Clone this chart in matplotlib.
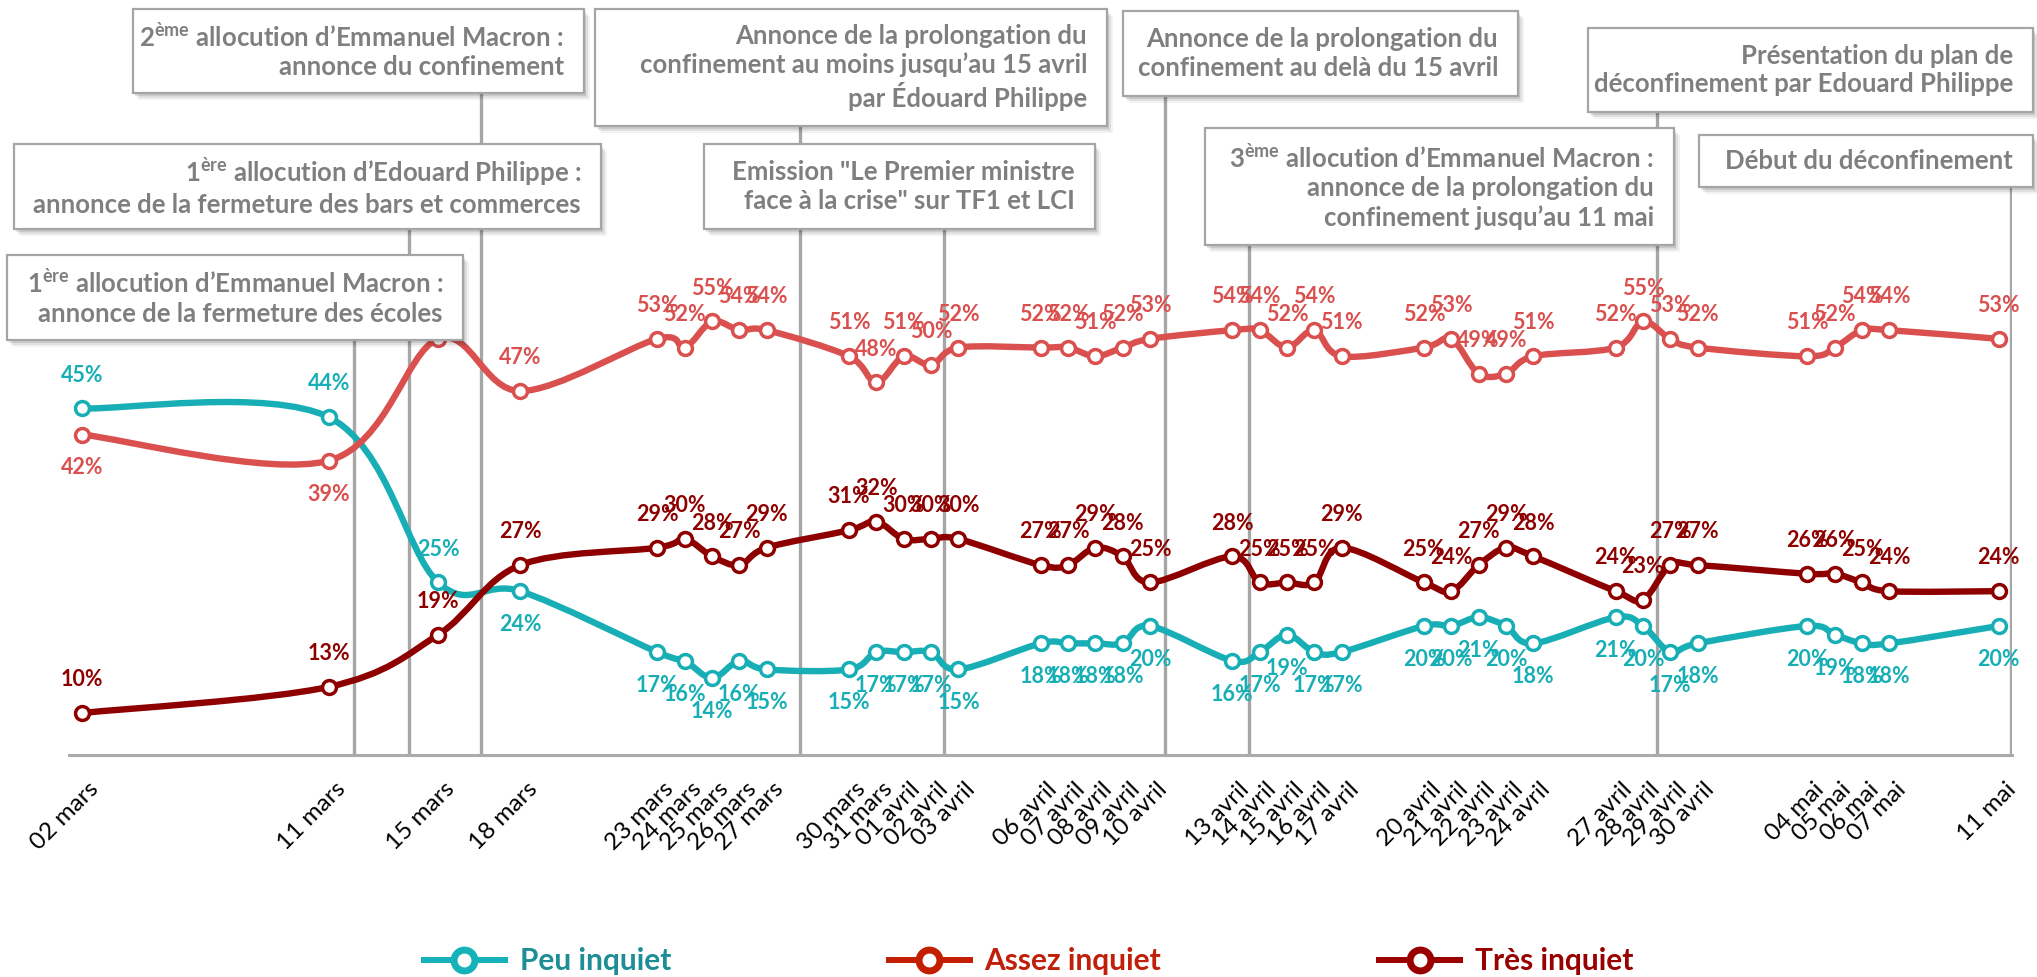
import matplotlib
matplotlib.use("Agg")
import matplotlib.pyplot as plt
import matplotlib.transforms as mtransforms
from matplotlib.path import Path
from matplotlib.patches import PathPatch, Rectangle
from matplotlib.lines import Line2D
import numpy as np

plt.rcParams['font.family'] = ['Lato', 'DejaVu Sans']
plt.rcParams['mathtext.fontset'] = 'custom'
plt.rcParams['mathtext.rm'] = 'Lato:bold'
plt.rcParams['mathtext.it'] = 'Lato:bold:italic'
plt.rcParams['mathtext.bf'] = 'Lato:bold'

# data
dates = ["02 mars", "11 mars", "15 mars", "18 mars", "23 mars", "24 mars", "25 mars", "26 mars",
         "27 mars", "30 mars", "31 mars", "01 avril", "02 avril", "03 avril", "06 avril", "07 avril",
         "08 avril", "09 avril", "10 avril", "13 avril", "14 avril", "15 avril", "16 avril", "17 avril",
         "20 avril", "21 avril", "22 avril", "23 avril", "24 avril", "27 avril", "28 avril", "29 avril",
         "30 avril", "04 mai", "05 mai", "06 mai", "07 mai", "11 mai"]
peu = [45, 44, 25, 24, 17, 16, 14, 16, 15, 15, 17, 17, 17, 15, 18, 18, 18, 18, 20,
       16, 17, 19, 17, 17, 20, 20, 21, 20, 18, 21, 20, 17, 18, 20, 19, 18, 18, 20]
assez = [42, 39, 53, 47, 53, 52, 55, 54, 54, 51, 48, 51, 50, 52, 52, 52, 51, 52, 53,
         54, 54, 52, 54, 51, 52, 53, 49, 49, 51, 52, 55, 53, 52, 51, 52, 54, 54, 53]
tres = [10, 13, 19, 27, 29, 30, 28, 27, 29, 31, 32, 30, 30, 30, 27, 27, 29, 28, 25,
        28, 25, 25, 25, 29, 25, 24, 27, 29, 28, 24, 23, 27, 27, 26, 26, 25, 24, 24]
series_names = ["Peu inquiet", "Assez inquiet", "Très inquiet"]

# events (day number counted from 29 feb, so 1 = 1er mars)
event_days = [11.91, 13.93, 16.56, 28.2, 33.46, 41.56, 44.61, 59.5, 72.43]
event_texts = [
    "1$^{\\mathrm{ère}}$ allocution d’Emmanuel Macron :\nannonce de la fermeture des écoles",
    "1$^{\\mathrm{ère}}$ allocution d’Edouard Philippe :\nannonce de la fermeture des bars et commerces",
    "2$^{\\mathrm{ème}}$ allocution d’Emmanuel Macron :\nannonce du confinement",
    "Annonce de la prolongation du\nconfinement au moins jusqu’au 15 avril\npar Édouard Philippe",
    "Emission \"Le Premier ministre\nface à la crise\" sur TF1 et LCI",
    "Annonce de la prolongation du\nconfinement au delà du 15 avril",
    "3$^{\\mathrm{ème}}$ allocution d’Emmanuel Macron :\nannonce de la prolongation du\nconfinement jusqu’au 11 mai",
    "Présentation du plan de\ndéconfinement par Edouard Philippe",
    "Début du déconfinement",
]
# box layout in pixels (left, top, right, bottom)
boxes = [(7, 255, 463, 340), (14, 144, 601, 229), (133, 9, 584, 93),
         (595, 9, 1107, 126), (704, 144, 1095, 229), (1123, 11, 1518, 96),
         (1205, 128, 1674, 245), (1588, 28, 2033, 112), (1699, 135, 2033, 187)]

months = {"mars": 0, "avril": 31, "mai": 61}
x = np.array([int(d.split()[0]) + months[d.split()[1]] for d in dates], dtype=float)

teal = '#17AFB5'
red = '#D9504E'
dark = '#8E0000'

W, H = 2037, 977
fig = plt.figure(figsize=(W / 100, H / 100), dpi=100)
ax_bottom_px = 755
ax = fig.add_axes([69 / W, 1 - ax_bottom_px / H, (2012 - 69) / W, ax_bottom_px / H])
ax.set_xlim(1.515, 72.48)
ax.set_ylim(5.17, 91.95)
for s in ['top', 'right', 'left']:
    ax.spines[s].set_visible(False)
ax.spines['bottom'].set_color('#ABABAB')
ax.spines['bottom'].set_linewidth(2.2)
ax.set_yticks([])


def smooth(xs, ys):
    pts = np.column_stack([xs, ys])
    n = len(pts)
    verts = [pts[0]]
    codes = [Path.MOVETO]
    for i in range(n - 1):
        p0 = pts[max(i - 1, 0)]
        p1 = pts[i]
        p2 = pts[i + 1]
        p3 = pts[min(i + 2, n - 1)]
        verts += [p1 + (p2 - p0) / 6, p2 - (p3 - p1) / 6, p2]
        codes += [Path.CURVE4] * 3
    return Path(verts, codes)


# vertical event lines
for d, (l, t, r, b) in zip(event_days, boxes):
    ax.axvline(d, ymin=0, ymax=(ax_bottom_px - b) / ax_bottom_px, color='#A6A6A6', lw=2.4, zorder=1)

for vals, col, sign in [(peu, teal, -1), (assez, red, 1), (tres, dark, 1)]:
    ax.add_patch(PathPatch(smooth(x, vals), fill=False, edgecolor=col, lw=4.6,
                           capstyle='round', joinstyle='round', zorder=3))
    ax.plot(x, vals, 'o', ms=10, mfc='white', mec=col, mew=2.5, zorder=4)
    for i, (xi, v) in enumerate(zip(x, vals)):
        s = sign
        if col == teal and i < 3:
            s = 1
        if col == red and i < 2:
            s = -1
        ax.annotate(f"{v}%", (xi, v), xytext=(0, 24 * s), textcoords='offset points',
                    ha='center', va='center', color=col, fontsize=15.5, fontweight='bold',
                    annotation_clip=False, zorder=5)

ax.set_xticks(x)
ax.set_xticklabels(dates)
ax.tick_params(axis='x', length=0, pad=17, labelsize=17.5)
offset = mtransforms.ScaledTranslation(6 / 100, 0, fig.dpi_scale_trans)
for lab in ax.get_xticklabels():
    lab.set_rotation(45)
    lab.set_ha('right')
    lab.set_va('top')
    lab.set_rotation_mode('anchor')
    lab.set_transform(lab.get_transform() + offset)

# annotation boxes
for (l, t, r, b), txt in zip(boxes, event_texts):
    for dx, dy, a in [(6, 7, 0.05), (4, 5, 0.08), (2, 3, 0.10)]:
        fig.add_artist(Rectangle(((l + dx) / W, 1 - (b + dy) / H), (r - l) / W, (b - t) / H,
                                 transform=fig.transFigure, facecolor='black', alpha=a,
                                 edgecolor='none', zorder=5))
    fig.add_artist(Rectangle((l / W, 1 - b / H), (r - l) / W, (b - t) / H,
                             transform=fig.transFigure, facecolor='white',
                             edgecolor='#A5A5A5', lw=1.6, zorder=6))
    fig.text((r - 20) / W, 1 - (t + b) / 2 / H, txt, ha='right', va='center', ma='right',
             color='#7F7F7F', fontsize=18.5, fontweight='bold', linespacing=1.22, zorder=7)

# legend
leg_cols = ['#15B2B9', '#C41E00', '#9A0000']
txt_cols = ['#1E8E96', '#C01F0A', '#990000']
handles = [Line2D([], [], color=c, lw=4.3, marker='o', ms=15, mfc='white', mec=c, mew=5)
           for c in leg_cols]
fig.legend(handles, series_names, loc='center', bbox_to_anchor=(0.505, 1 - 961 / H), ncol=3,
           frameon=False, prop=dict(weight='bold', size=21.5), handlelength=2.7,
           handletextpad=0.5, columnspacing=7.3, labelcolor=txt_cols)

fig.savefig('out.png', dpi=100)
